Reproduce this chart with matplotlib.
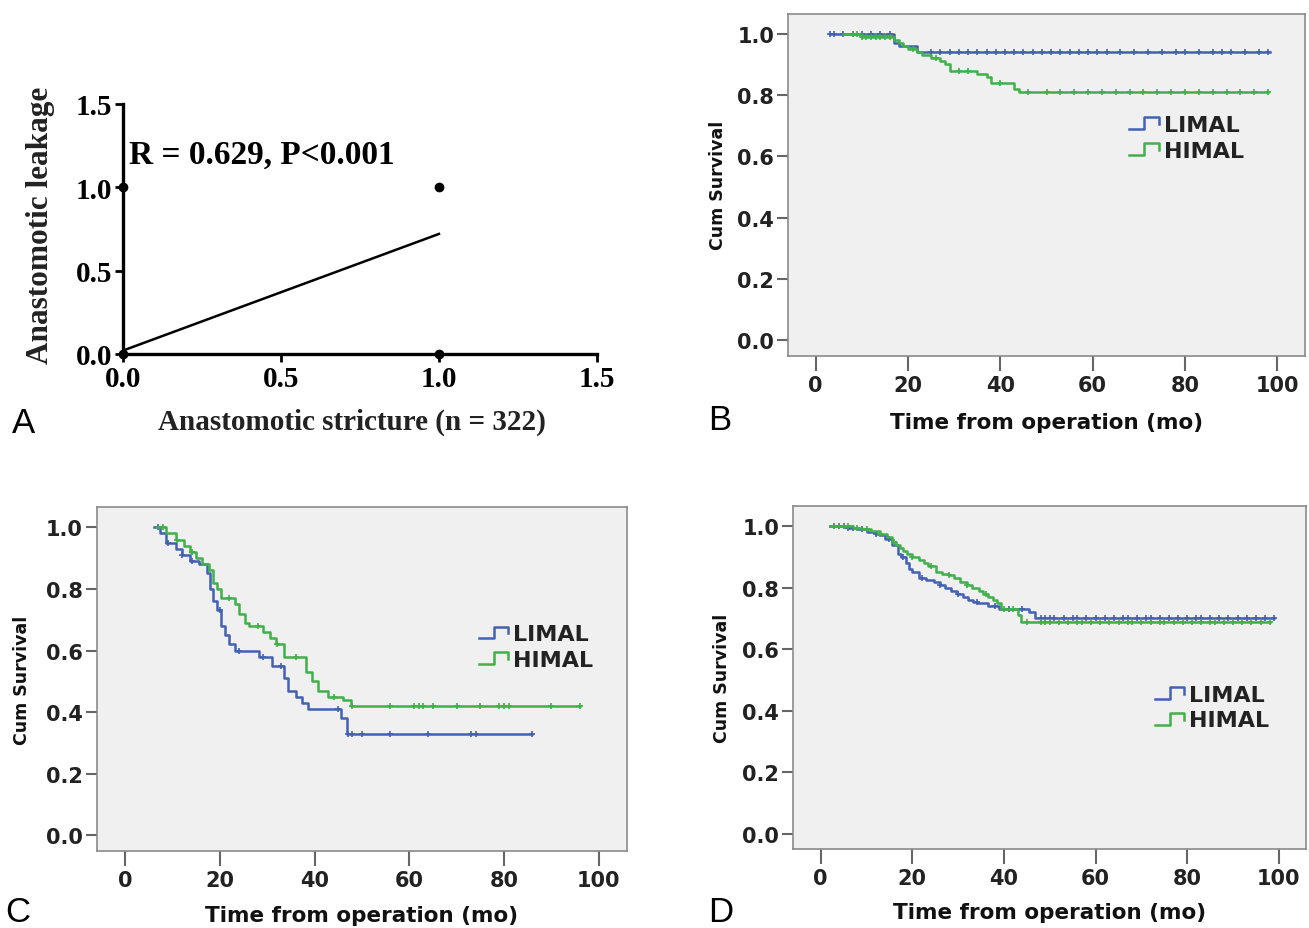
import numpy as np
import matplotlib
matplotlib.use('Agg')
import matplotlib.pyplot as plt
from matplotlib.legend_handler import HandlerBase
from matplotlib.lines import Line2D

# ---- panel A: correlation ----
a_x = [0, 0, 1, 1]
a_y = [0, 1, 0, 1]
fit_x = [0, 1]
fit_y = [0.02, 0.72]
a_ticks = [0.0, 0.5, 1.0, 1.5]

# ---- KM curves: (event times, survival) ----
b_lim_t = [3, 17, 18, 22, 98.5]
b_lim_s = [1.0, 0.97, 0.96, 0.94, 0.94]
b_him_t = [6, 10, 17, 18, 19, 20, 22, 23, 25, 27, 28, 29, 35, 37, 38, 43, 44, 98]
b_him_s = [1.0, 0.99, 0.98, 0.97, 0.96, 0.95, 0.94, 0.93, 0.92, 0.91, 0.90, 0.88,
           0.87, 0.86, 0.84, 0.82, 0.81, 0.81]
b_lim_c = [3, 4, 6, 8, 10, 12, 14, 16, 25, 27, 29, 31, 33, 35, 37, 39, 41, 43, 45, 47,
           49, 51, 53, 55, 57, 59, 61, 63, 66, 69, 72, 75, 78, 80, 83, 86, 88, 90, 93, 96, 98]
b_him_c = [8, 9, 10, 11, 12, 13, 14, 15, 16, 21, 26, 31, 33, 40, 46, 50, 53, 56, 59, 62,
           65, 68, 71, 74, 77, 80, 83, 86, 89, 92, 95, 98]

c_lim_t = [6, 7.3, 8.6, 10.7, 12, 13.7, 15.5, 17.2, 18, 18.5, 19.3, 20.2, 21, 21.9, 23.2,
           28.3, 30.9, 33.5, 34.3, 36, 37.3, 38.6, 45.5, 46.8, 86]
c_lim_s = [1.0, 0.98, 0.95, 0.93, 0.91, 0.89, 0.88, 0.85, 0.80, 0.76, 0.73, 0.68, 0.65,
           0.62, 0.60, 0.58, 0.55, 0.51, 0.47, 0.45, 0.43, 0.41, 0.38, 0.33, 0.33]
c_him_t = [6.4, 8.6, 10.7, 12.4, 13.7, 15, 16.3, 17.6, 18.5, 19.3, 20.2, 23.2, 24, 25.3,
           26.2, 29.2, 30.5, 31.8, 33.5, 38.2, 39.5, 40.8, 42.9, 45.9, 47.6, 96]
c_him_s = [1.0, 0.98, 0.96, 0.94, 0.92, 0.90, 0.88, 0.86, 0.82, 0.80, 0.77, 0.75, 0.72,
           0.69, 0.68, 0.66, 0.64, 0.62, 0.58, 0.53, 0.50, 0.47, 0.45, 0.44, 0.42, 0.42]
c_lim_c = [7, 9, 12, 14, 20, 24, 29, 33, 45, 47, 48, 50, 56, 64, 73, 74, 86]
c_him_c = [8, 11, 14, 22, 28, 32, 36, 44, 48, 56, 61, 62, 63, 65, 70, 75, 79, 80, 81, 90, 96]

d_lim_t = [2, 6, 8, 10, 12, 13, 14, 15.5, 16.8, 17.5, 18.5, 19.2, 20, 21.4, 23, 24.7, 26,
           27.2, 28.5, 29.7, 31, 32.2, 33.2, 34.3, 36.4, 38.9, 45.5, 46.8, 99]
d_lim_s = [1.0, 0.995, 0.99, 0.98, 0.975, 0.97, 0.96, 0.94, 0.91, 0.90, 0.88, 0.86, 0.85,
           0.83, 0.825, 0.82, 0.81, 0.80, 0.79, 0.78, 0.77, 0.76, 0.755, 0.75, 0.74, 0.73,
           0.72, 0.70, 0.70]
d_him_t = [2, 7, 9, 11, 13, 14.5, 15.6, 16.5, 17.2, 18, 18.9, 20, 21.4, 22.5, 23.5, 25.1,
           26.5, 28, 29, 30.5, 32, 33, 34.5, 35.5, 36.5, 37.6, 38.5, 39.3, 43, 43.8, 98]
d_him_s = [1.0, 0.995, 0.99, 0.985, 0.975, 0.965, 0.95, 0.94, 0.93, 0.92, 0.91, 0.90, 0.89,
           0.88, 0.87, 0.85, 0.845, 0.84, 0.83, 0.82, 0.81, 0.80, 0.79, 0.78, 0.77, 0.76,
           0.75, 0.73, 0.71, 0.69, 0.69]
d_lim_c = [3, 4, 5, 6, 7, 9, 12, 15, 18, 22, 26, 30, 34, 38, 41, 44, 48, 49, 50, 51, 53, 55,
           56, 58, 60, 62, 64, 66, 67, 69, 71, 72, 74, 76, 78, 80, 82, 83, 85, 87, 89, 91,
           93, 95, 97, 99]
d_him_c = [3, 4, 5, 6, 8, 10, 13, 16, 20, 24, 28, 32, 36, 40, 42, 45, 48, 49, 50, 52, 54,
           56, 57, 59, 61, 63, 65, 67, 68, 70, 72, 74, 75, 77, 79, 81, 83, 85, 86, 88, 90,
           92, 94, 96, 98]

groups = ['LIMAL', 'HIMAL']
km_ticks_x = [0, 20, 40, 60, 80, 100]
km_ticks_y = [0.0, 0.2, 0.4, 0.6, 0.8, 1.0]

BLUE = '#4361b3'
GREEN = '#3fb04a'
BG = '#f0f0f0'


class StepHandler(HandlerBase):
    # little step glyph like the SPSS legend
    def create_artists(self, legend, orig_handle, xdescent, ydescent,
                       width, height, fontsize, trans):
        xs = np.array([0.0, 0.45, 0.45, 0.88, 0.88]) * width - xdescent
        ys = np.array([0.15, 0.15, 0.85, 0.85, 0.45]) * height - ydescent
        ln = Line2D(xs, ys, color=orig_handle.get_color(), lw=1.8, transform=trans)
        return [ln]


def km_panel(ax, curves, legend_xy, xlab_y, ylab_x):
    ax.set_facecolor(BG)
    for t, s, c, col in curves:
        ax.step(t, s, where='post', color=col, lw=1.8)
        t_arr = np.array(t)
        idx = np.searchsorted(t_arr, np.array(c), side='right') - 1
        idx = np.clip(idx, 0, len(t) - 1)
        ax.plot(c, np.array(s)[idx], ls='none', marker='+', ms=4, mew=1.2, color=col)
    ax.set_xlim(-6, 106)
    ax.set_ylim(-0.05, 1.065)
    ax.set_xticks(km_ticks_x)
    ax.set_yticks(km_ticks_y)
    ax.set_yticklabels(['%.1f' % v for v in km_ticks_y])
    for sp in ax.spines.values():
        sp.set_color('#8a8a8a')
        sp.set_linewidth(1.2)
    ax.tick_params(axis='x', length=11, width=1.5, color='#666666', pad=3,
                   labelsize=15, labelcolor='#222222')
    ax.tick_params(axis='y', length=8, width=1.5, color='#666666', pad=2,
                   labelsize=15, labelcolor='#222222')
    for lab in ax.get_xticklabels() + ax.get_yticklabels():
        lab.set_fontweight('bold')
    ax.set_xlabel('Time from operation (mo)', fontsize=15.5, fontweight='bold', color='#111111')
    ax.set_ylabel('Cum Survival', fontsize=12.5, fontweight='bold', color='#111111')
    ax.xaxis.set_label_coords(0.5, xlab_y)
    ax.yaxis.set_label_coords(ylab_x, 0.5)
    hs = [Line2D([], [], color=curves[0][3]), Line2D([], [], color=curves[1][3])]
    leg = ax.legend(hs, groups, loc='upper left', bbox_to_anchor=legend_xy, frameon=False,
                    handler_map={Line2D: StepHandler()}, handlelength=1.5, handleheight=0.8,
                    handletextpad=0.05, labelspacing=0.25, borderpad=0, borderaxespad=0,
                    prop={'weight': 'bold', 'size': 16})
    for tx in leg.get_texts():
        tx.set_color('#222222')


fig = plt.figure(figsize=(13.09, 9.29), dpi=100)

# panel A
axA = fig.add_axes([0.094, 0.618, 0.362, 0.269])
axA.plot(fit_x, fit_y, color='black', lw=1.8)
axA.plot(a_x, a_y, ls='none', marker='o', ms=6, color='black', clip_on=False, zorder=5)
axA.set_xlim(0, 1.5)
axA.set_ylim(0, 1.5)
axA.set_xticks(a_ticks)
axA.set_yticks(a_ticks)
axA.set_xticklabels(['%.1f' % v for v in a_ticks])
axA.set_yticklabels(['%.1f' % v for v in a_ticks])
axA.spines['top'].set_visible(False)
axA.spines['right'].set_visible(False)
axA.spines['left'].set_linewidth(2.4)
axA.spines['bottom'].set_linewidth(2.4)
axA.tick_params(length=6, width=2, pad=2, labelsize=21)
for lab in axA.get_xticklabels() + axA.get_yticklabels():
    lab.set_fontfamily('Liberation Serif')
    lab.set_fontweight('bold')
axA.set_xlabel('Anastomotic stricture (n = 322)', fontsize=21, fontweight='bold',
               family='Liberation Serif', color='#222222')
axA.set_ylabel('Anastomotic leakage', fontsize=22.5, fontweight='bold',
               family='Liberation Serif', color='#222222')
axA.xaxis.set_label_coords(0.483, -0.215)
axA.yaxis.set_label_coords(-0.143, 0.52)
axA.text(0.02, 1.2, 'R = 0.629, P<0.001', fontsize=24, fontweight='bold',
         family='Liberation Serif', va='center', ha='left')

# panel B
axB = fig.add_axes([0.602, 0.616, 0.395, 0.368])
km_panel(axB, [(b_lim_t, b_lim_s, b_lim_c, BLUE), (b_him_t, b_him_s, b_him_c, GREEN)],
         (0.66, 0.705), -0.164, -0.118)

# panel C
axC = fig.add_axes([0.074, 0.083, 0.405, 0.370])
km_panel(axC, [(c_lim_t, c_lim_s, c_lim_c, BLUE), (c_him_t, c_him_s, c_him_c, GREEN)],
         (0.72, 0.66), -0.157, -0.125)

# panel D
axD = fig.add_axes([0.606, 0.085, 0.392, 0.369])
km_panel(axD, [(d_lim_t, d_lim_s, d_lim_c, BLUE), (d_him_t, d_him_s, d_him_c, GREEN)],
         (0.705, 0.48), -0.155, -0.122)

# panel letters
for lt, x, y in [('A', 0.009, 0.544), ('B', 0.541, 0.547), ('C', 0.004, 0.018), ('D', 0.541, 0.018)]:
    fig.text(x, y, lt, fontsize=25, family='Liberation Sans', ha='left', va='center')

fig.savefig('out.png', dpi=100)
